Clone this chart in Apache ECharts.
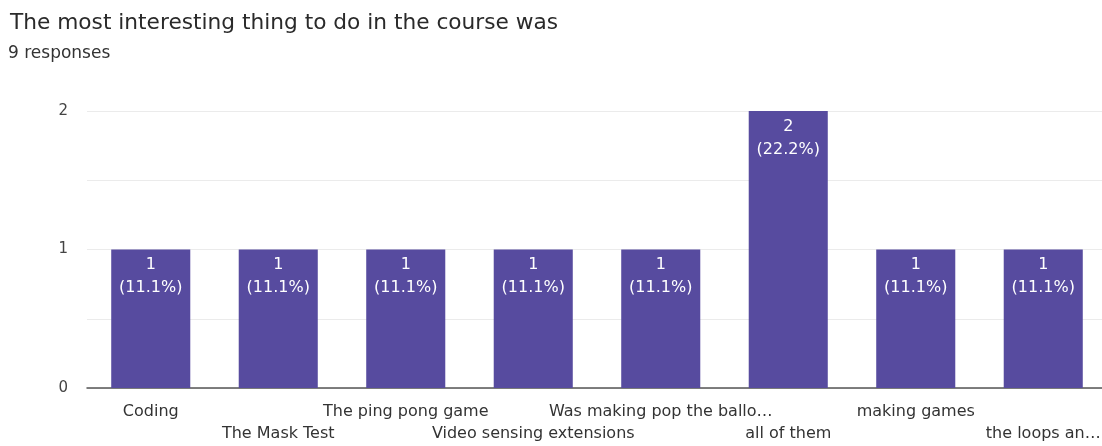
<!DOCTYPE html>
<html>
<head>
<meta charset="utf-8">
<script src="https://cdn.jsdelivr.net/npm/echarts@6/dist/echarts.min.js"></script>
<style>
  html, body { margin: 0; padding: 0; background: #fff; }
  #chart { width: 1102px; height: 446px; }
</style>
</head>
<body>
<div id="chart"></div>
<script>
var categories = ['Coding', 'The Mask Test', 'The ping pong game', 'Video sensing extensions',
  'Was making pop the ballo…', 'all of them', 'making games', 'the loops an…'];
var counts = [1, 1, 1, 1, 1, 2, 1, 1];
var totalResponses = 9;
var yTicks = [0, 1, 2];

var FONT = 'DejaVu Sans';
var chart = echarts.init(document.getElementById('chart'));

var option = {
  backgroundColor: '#fff',
  animation: false,
  title: [{
    text: 'The most interesting thing to do in the course was',
    left: 5,
    top: 7,
    textStyle: { fontFamily: FONT, fontSize: 21.7, fontWeight: 'normal', color: '#2a2a2a' }
  }, {
    text: '9 responses',
    left: 3,
    top: 40,
    textStyle: { fontFamily: FONT, fontSize: 17, fontWeight: 'normal', color: '#333' }
  }],
  grid: { left: 87, right: -5, top: 111, bottom: 58, outerBoundsMode: 'none' },
  xAxis: {
    type: 'category',
    data: categories,
    axisTick: { show: false },
    axisLine: { lineStyle: { color: '#555', width: 1.5 } },
    axisLabel: {
      interval: 0,
      margin: 13,
      fontFamily: FONT,
      fontSize: 16,
      color: '#333',
      lineHeight: 22,
      formatter: function (v, i) {
        return i % 2 === 1 ? '\n' + v : v;
      }
    }
  },
  yAxis: {
    type: 'value',
    min: 0,
    max: 2,
    interval: 0.5,
    axisLine: { show: false },
    axisTick: { show: false },
    splitLine: { lineStyle: { color: '#ebebeb' } },
    axisLabel: {
      margin: 19,
      fontFamily: FONT,
      fontSize: 15,
      color: '#444',
      formatter: function (v) {
        return yTicks.indexOf(v) >= 0 ? String(v) : '';
      }
    }
  },
  series: [{
    type: 'bar',
    data: counts,
    barCategoryGap: '38%',
    itemStyle: { color: '#574b9f' },
    label: {
      show: true,
      position: 'insideTop',
      distance: 4,
      fontFamily: FONT,
      fontSize: 16,
      lineHeight: 23,
      color: '#fff',
      formatter: function (p) {
        return p.value + '\n(' + (p.value / totalResponses * 100).toFixed(1) + '%)';
      }
    }
  }]
};

chart.setOption(option);
</script>
</body>
</html>
